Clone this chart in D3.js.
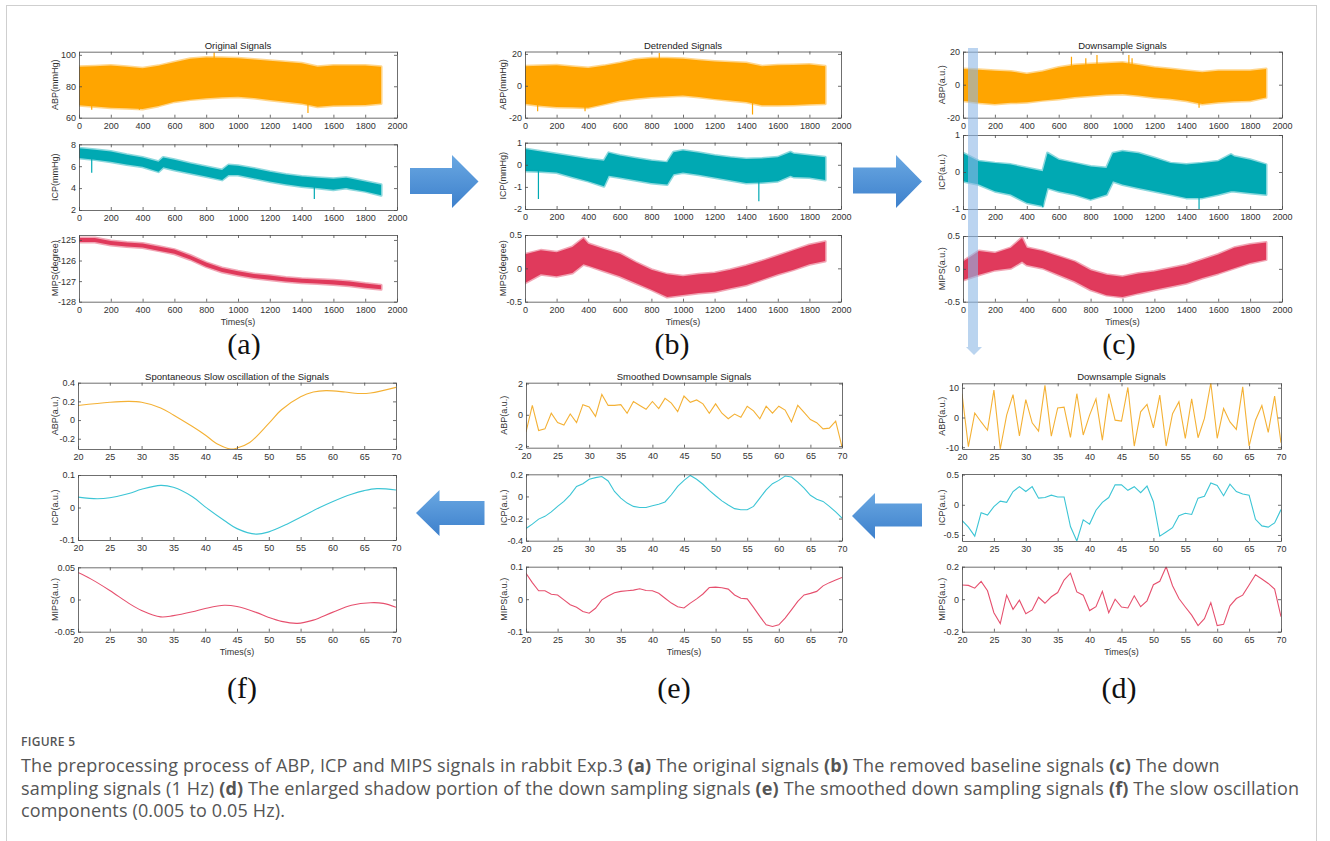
<!DOCTYPE html>
<html>
<head>
<meta charset="utf-8">
<script src="https://cdn.jsdelivr.net/npm/d3@7"></script>
<style>
  body { margin: 0; background: #fff; }
  svg { display: block; }
  .title, .lab, .tick text { font-family: "Liberation Sans", Arial, sans-serif; }
  .cap { font-family: "Open Sans", sans-serif; white-space: pre; }
</style>
</head>
<body>
<div id="chart"></div>
<script>
// ---------- values ----------
// dense signals (a)-(c): upper / lower envelope of the trace
const gridT = [0,100,200,300,400,500,600,700,800,900,1000,1100,1200,1300,1400,1500,1600,1700,1800,1900];
const icpT  = [0,100,200,300,400,500,530,600,700,800,900,940,1000,1100,1200,1300,1400,1500,1600,1680,1700,1800,1900];
const mipsT = [0,100,200,300,370,400,500,600,700,800,900,1000,1100,1200,1300,1400,1500,1600,1700,1800,1900];

const abpAUp = [92.5,92.8,93.2,92.5,91.5,93,95.3,97.5,98.3,98.2,97.9,97,96.2,95.5,94.7,92.5,93.2,93.2,93.2,92.5];
const abpALo = [68,67.2,66.4,66,65.5,67.5,70.2,71.5,72.3,73,73.4,72.5,71.3,70.2,69.1,67,67.7,68,68.1,69.1];
const abpASpikes = [[850,96,101.5],[1440,70,63],[80,70,65],[380,68,65]];
const icpAUp = [7.65,7.5,7.35,7.05,6.8,6.4,6.8,6.6,6.25,5.95,5.65,6.1,6.05,5.8,5.5,5.25,5.05,4.95,4.85,4.95,4.9,4.6,4.3];
const icpALo = [6.75,6.6,6.4,6.15,5.95,5.5,5.9,5.65,5.35,5.05,4.75,5.2,5.2,4.9,4.6,4.35,4.15,4.0,3.85,4.0,3.95,3.7,3.35];
const icpASpikes = [[80,7,5.4],[1480,4.2,3.0]];
const mipsAUp = [-124.9,-124.9,-125.05,-125.12,-125.17,-125.32,-125.47,-125.75,-126.1,-126.36,-126.52,-126.65,-126.73,-126.82,-126.88,-126.92,-126.96,-127.02,-127.12,-127.2];
const mipsALo = [-125.1,-125.1,-125.25,-125.32,-125.37,-125.52,-125.67,-125.95,-126.3,-126.56,-126.72,-126.85,-126.93,-127.02,-127.08,-127.12,-127.16,-127.22,-127.32,-127.4];

const abpBUp = [12.2,12.5,12.9,12,11.2,12.5,14.3,16.5,17.3,17.2,16.9,16,15.3,14.8,14.3,12.2,12.9,13,13.3,12.2];
const abpBLo = [-11.2,-12.5,-13.3,-13.5,-13.7,-11.5,-9.2,-8,-7.1,-6.5,-6.1,-7,-8.2,-9.2,-10.2,-12.2,-12.2,-12,-11.6,-11.2];
const abpBSpikes = [[850,15,20.5],[1440,-10,-18],[80,-10,-16],[380,-12,-16]];
const icpBUp = [0.72,0.6,0.49,0.38,0.26,0.18,0.54,0.42,0.3,0.18,0.11,0.57,0.65,0.55,0.42,0.33,0.26,0.28,0.34,0.57,0.5,0.42,0.34];
const icpBLo = [-0.28,-0.3,-0.35,-0.55,-0.74,-0.97,-0.5,-0.58,-0.7,-0.82,-0.89,-0.43,-0.35,-0.45,-0.58,-0.7,-0.82,-0.8,-0.74,-0.5,-0.55,-0.58,-0.69];
const icpBSpikes = [[85,-0.2,-1.55],[1480,-0.6,-1.65]];
const mipsBUp = [0.21,0.27,0.24,0.32,0.45,0.37,0.29,0.22,0.09,-0.02,-0.09,-0.12,-0.09,-0.07,-0.02,0.04,0.11,0.19,0.27,0.35,0.4];
const mipsBLo = [-0.22,-0.09,-0.12,-0.07,0.06,0.04,-0.04,-0.12,-0.22,-0.32,-0.43,-0.4,-0.37,-0.35,-0.3,-0.25,-0.17,-0.09,-0.02,0.06,0.11];

const abpCUp = [9.5,9,8.5,8,6.5,8,10.5,12,12.5,13,13.5,12,10.5,9.5,8.5,7.5,8.5,8.5,8.5,9.5];
const abpCLo = [-9.7,-11,-11.7,-11,-10.7,-9.5,-8.7,-7.5,-6.7,-6,-5.7,-6.5,-7.7,-8.5,-9.7,-11.7,-10.7,-10,-9.7,-7.7];
const abpCSpikes = [[680,10,17],[770,10,16],[840,10,18],[1040,10,18],[1060,10,16],[1480,-8,-14]];
const icpCUp = [0.51,0.29,0.24,0.2,0.11,0.02,0.51,0.33,0.24,0.15,0.11,0.51,0.56,0.51,0.38,0.24,0.2,0.24,0.29,0.47,0.42,0.33,0.2];
const icpCLo = [-0.25,-0.34,-0.52,-0.61,-0.83,-0.92,-0.43,-0.52,-0.61,-0.74,-0.61,-0.25,-0.34,-0.43,-0.52,-0.61,-0.7,-0.7,-0.61,-0.52,-0.52,-0.57,-0.61];
const icpCSpikes = [[1480,-0.5,-1.0],[500,-0.6,-0.95]];
const mipsCUp = [0.11,0.27,0.24,0.32,0.47,0.32,0.27,0.19,0.11,-0.02,-0.09,-0.12,-0.07,-0.04,0.01,0.06,0.14,0.22,0.32,0.37,0.4];
const mipsCLo = [-0.17,-0.09,-0.02,0.01,0.11,0.06,0.01,-0.09,-0.19,-0.32,-0.4,-0.43,-0.37,-0.32,-0.27,-0.22,-0.14,-0.07,0.01,0.09,0.14];

// 1 Hz samples (d), (e): t = 20..70 s
const secT = [20,21,22,23,24,25,26,27,28,29,30,31,32,33,34,35,36,37,38,39,40,41,42,43,44,45,46,47,48,49,50,51,52,53,54,55,56,57,58,59,60,61,62,63,64,65,66,67,68,69,70];
const abpD = [8,-9.8,1.5,-1.5,-4.3,9.2,-10.6,0.8,7.7,-6.2,6.0,-1.8,-4.6,10.8,-6.3,3.2,3.5,-6.7,8,-5.9,0.8,6.3,-7.6,8,-0.9,-1.2,10.1,-9.6,1.9,4.4,-3.5,7.5,-9.6,1.3,5.3,-7.0,6.3,-6.8,-0.3,11.6,-7.0,3.0,-1.5,-4.0,10.3,-9.6,-0.9,4.0,-5.0,7.2,-8.5];
const icpD = [-0.26,-0.37,-0.52,-0.13,-0.17,-0.03,0.06,0.04,0.22,0.3,0.22,0.3,0.11,0.12,0.16,0.13,0.13,-0.36,-0.6,-0.25,-0.32,-0.09,0.04,0.12,0.33,0.33,0.24,0.3,0.2,0.31,0.05,-0.52,-0.45,-0.38,-0.18,-0.14,-0.16,0.11,0.14,0.36,0.32,0.15,0.34,0.22,0.18,0.16,-0.24,-0.35,-0.37,-0.3,-0.08];
const mipsD = [0.087,0.085,0.068,0.11,0.052,-0.083,-0.15,0.025,-0.062,-0.006,-0.09,-0.066,0.012,-0.025,0.015,0.041,0.118,0.16,0.045,0.025,-0.07,-0.046,0.048,-0.083,0.0,-0.048,-0.054,0.021,-0.046,-0.01,0.089,0.11,0.2,0.083,0.004,-0.048,-0.098,-0.162,-0.12,-0.021,-0.162,-0.155,-0.041,0.004,0.025,0.087,0.15,0.124,0.097,0.062,-0.108];

const abpE = [-1.1,0.6,-1.0,-0.9,0.1,-0.5,-0.65,0.05,-0.5,0.65,0.5,-0.1,1.3,0.6,0.6,0.65,0.1,0.85,0.6,0.35,0.85,0.4,1.05,0.75,0.2,1.2,0.8,0.95,0.7,0.1,0.7,0.1,-0.25,0.05,-0.15,0.55,0.25,-0.25,0.55,0.1,0.55,0.3,-0.45,0.6,0.15,-0.3,-0.5,-0.9,-0.85,-0.4,-2.05];
const icpE = [-0.29,-0.25,-0.205,-0.18,-0.14,-0.09,-0.045,0.015,0.09,0.115,0.155,0.17,0.18,0.14,0.045,-0.015,-0.06,-0.09,-0.1,-0.1,-0.085,-0.07,-0.05,0.015,0.09,0.145,0.19,0.155,0.11,0.055,0.006,-0.04,-0.077,-0.11,-0.12,-0.12,-0.09,-0.015,0.06,0.115,0.145,0.185,0.175,0.13,0.075,0.01,-0.025,-0.045,-0.09,-0.14,-0.195];
const mipsE = [0.08,0.051,0.026,0.026,0.015,0.013,-0.002,-0.017,-0.025,-0.038,-0.043,-0.028,-0.002,0.01,0.02,0.024,0.026,0.028,0.032,0.027,0.026,0.018,0.003,-0.012,-0.023,-0.027,-0.012,0.001,0.016,0.036,0.037,0.035,0.031,0.013,0.003,0.001,-0.025,-0.053,-0.079,-0.084,-0.079,-0.058,-0.033,-0.007,0.013,0.018,0.024,0.041,0.051,0.059,0.067];

// slow oscillation (f): smooth curves, read at selected times
const abpFT = [20,25,28,30,33,35,38,40,42,44,45,47,50,52,55,57,59,62,64,66,70];
const abpF  = [0.156,0.19,0.2,0.19,0.13,0.055,-0.07,-0.16,-0.26,-0.31,-0.3,-0.24,-0.036,0.11,0.25,0.3,0.315,0.3,0.285,0.29,0.35];
const icpFT = [20,23,25,28,30,33,35,38,40,43,45,48,50,53,55,58,60,63,65,67,70];
const icpF  = [0.032,0.027,0.03,0.043,0.056,0.068,0.062,0.033,0.002,-0.04,-0.065,-0.082,-0.075,-0.05,-0.03,0.0,0.018,0.041,0.052,0.058,0.054];
const mipsFT = [20,22,25,28,30,33,35,38,40,43,45,48,50,52,54.5,57,60,63,66,68,70];
const mipsF  = [0.042,0.032,0.014,-0.006,-0.017,-0.027,-0.025,-0.019,-0.014,-0.009,-0.011,-0.02,-0.028,-0.034,-0.037,-0.032,-0.02,-0.009,-0.005,-0.006,-0.012];

const longTicks  = [0,200,400,600,800,1000,1200,1400,1600,1800,2000];
const shortTicks = [20,25,30,35,40,45,50,55,60,65,70];

const captionLines = [
  [["The preprocessing process of ABP, ICP and MIPS signals in rabbit Exp.3 ",0],["(a)",1],[" The original signals ",0],["(b)",1],[" The removed baseline signals ",0],["(c)",1],[" The down",0]],
  [["sampling signals (1 Hz) ",0],["(d)",1],[" The enlarged shadow portion of the down sampling signals ",0],["(e)",1],[" The smoothed down sampling signals ",0],["(f)",1],[" The slow oscillation",0]],
  [["components (0.005 to 0.05 Hz).",0]]
];

// ---------- styling ----------
const dense = { abp: "#FFA500", icp: "#00A9B3", mips: "#E03A5C" };
const thin  = { abp: "#F4B135", icp: "#3CC5D5", mips: "#E6506E" };

const panels = [
  { id: "a", x0: 79, x1: 397, rows: [[51.7,117.7],[144.3,210],[235,301.7]], ylabX: 58,
    title: "Original Signals", letter: "(a)", letterX: 244, letterY: 354, xDom: [0,2000], xTicks: longTicks,
    plots: [
      { label: "ABP(mmHg)", dom: [60,102], ticks: [60,80,100], T: gridT, up: abpAUp, lo: abpALo, spikes: abpASpikes, c: dense.abp },
      { label: "ICP(mmHg)", dom: [2,8], ticks: [2,4,6,8], T: icpT, up: icpAUp, lo: icpALo, spikes: icpASpikes, c: dense.icp },
      { label: "MIPS(degree)", dom: [-128,-124.76], ticks: [-128,-127,-126,-125], T: gridT, up: mipsAUp, lo: mipsALo, spikes: [], c: dense.mips }
    ] },
  { id: "b", x0: 525, x1: 841, rows: [[51.5,117.7],[142.7,209],[235,301.7]], ylabX: 506,
    title: "Detrended Signals", letter: "(b)", letterX: 672, letterY: 354, xDom: [0,2000], xTicks: longTicks,
    plots: [
      { label: "ABP(mmHg)", dom: [-20,21.5], ticks: [-20,0,20], T: gridT, up: abpBUp, lo: abpBLo, spikes: abpBSpikes, c: dense.abp },
      { label: "ICP(mmHg)", dom: [-2,1], ticks: [-2,-1,0,1], T: icpT, up: icpBUp, lo: icpBLo, spikes: icpBSpikes, c: dense.icp },
      { label: "MIPS(degree)", dom: [-0.5,0.5], ticks: [-0.5,0,0.5], T: mipsT, up: mipsBUp, lo: mipsBLo, spikes: [], c: dense.mips }
    ] },
  { id: "c", x0: 963, x1: 1282, rows: [[51.7,117.7],[135,209],[236,301.7]], ylabX: 945,
    title: "Downsample Signals", letter: "(c)", letterX: 1119, letterY: 354, xDom: [0,2000], xTicks: longTicks,
    plots: [
      { label: "ABP(a.u.)", dom: [-20,20], ticks: [-20,0,20], T: gridT, up: abpCUp, lo: abpCLo, spikes: abpCSpikes, c: dense.abp },
      { label: "ICP(a.u.)", dom: [-1,1], ticks: [-1,0,1], T: icpT, up: icpCUp, lo: icpCLo, spikes: icpCSpikes, c: dense.icp },
      { label: "MIPS(a.u.)", dom: [-0.5,0.5], ticks: [-0.5,0,0.5], T: mipsT, up: mipsCUp, lo: mipsCLo, spikes: [], c: dense.mips }
    ] },
  { id: "f", x0: 78, x1: 396, rows: [[382.7,449],[475,540],[567.3,631.7]], ylabX: 58,
    title: "Spontaneous Slow oscillation of the Signals", letter: "(f)", letterX: 242, letterY: 698, xDom: [20,70], xTicks: shortTicks,
    plots: [
      { label: "ABP(a.u.)", dom: [-0.31,0.4], ticks: [-0.2,0,0.2,0.4], T: abpFT, v: abpF, smooth: true, c: thin.abp },
      { label: "ICP(a.u.)", dom: [-0.1,0.1], ticks: [-0.1,0,0.1], T: icpFT, v: icpF, smooth: true, c: thin.icp },
      { label: "MIPS(a.u.)", dom: [-0.05,0.05], ticks: [-0.05,0,0.05], T: mipsFT, v: mipsF, smooth: true, c: thin.mips }
    ] },
  { id: "e", x0: 526, x1: 842, rows: [[382.7,447.7],[474.3,540.7],[566.7,631.7]], ylabX: 507,
    title: "Smoothed Downsample Signals", letter: "(e)", letterX: 674, letterY: 698, xDom: [20,70], xTicks: shortTicks,
    plots: [
      { label: "ABP(a.u.)", dom: [-2.1,2.05], ticks: [-2,0,2], T: secT, v: abpE, c: thin.abp },
      { label: "ICP(a.u.)", dom: [-0.4,0.2], ticks: [-0.4,-0.2,0,0.2], T: secT, v: icpE, c: thin.icp },
      { label: "MIPS(a.u.)", dom: [-0.1,0.1], ticks: [-0.1,0,0.1], T: secT, v: mipsE, c: thin.mips }
    ] },
  { id: "d", x0: 962, x1: 1281, rows: [[383.3,449],[474,541],[566.7,631.7]], ylabX: 945,
    title: "Downsample Signals", letter: "(d)", letterX: 1119, letterY: 698, xDom: [20,70], xTicks: shortTicks,
    plots: [
      { label: "ABP(a.u.)", dom: [-10.6,11.5], ticks: [-10,0,10], T: secT, v: abpD, c: thin.abp },
      { label: "ICP(a.u.)", dom: [-0.6,0.51], ticks: [-0.5,0,0.5], T: secT, v: icpD, c: thin.icp },
      { label: "MIPS(a.u.)", dom: [-0.2,0.2], ticks: [-0.2,0,0.2], T: secT, v: mipsD, c: thin.mips }
    ] }
];

// block arrows between panels (layout only)
const arrows = [
  [[410,168],[452,168],[452,155],[478.5,181.5],[452,208],[452,194],[410,194]],
  [[853,167.5],[896,167.5],[896,155],[922,181.5],[896,208],[896,193.5],[853,193.5]],
  [[484.5,501],[439.5,501],[439.5,490],[416,513],[439.5,536],[439.5,525],[484.5,525]],
  [[922,503.5],[875,503.5],[875,493],[852,516],[875,539],[875,526.5],[922,526.5]]
];

const width = 1330, height = 841;
const svg = d3.select("#chart").append("svg")
  .attr("width", width).attr("height", height);

const defs = svg.append("defs");
const grad = defs.append("linearGradient").attr("id", "arrowGrad")
  .attr("x1", 0).attr("y1", 0).attr("x2", 0).attr("y2", 1);
grad.append("stop").attr("offset", "0%").attr("stop-color", "#6aa8e2");
grad.append("stop").attr("offset", "100%").attr("stop-color", "#3d80cc");

// outer frame
svg.append("rect").attr("x", 6.5).attr("y", 5.5).attr("width", 1310).attr("height", 900)
  .attr("fill", "none").attr("stroke", "#cfcfcf");

const fmt = d => String(d);

function styleAxis(g) {
  g.selectAll("path, line").attr("stroke", "#4a4a4a").attr("stroke-width", 0.8);
  g.selectAll("text").attr("fill", "#333").attr("font-size", 9);
  g.attr("font-family", "Liberation Sans, Arial, sans-serif");
}

function drawPanel(p) {
  const g = svg.append("g");
  const x = d3.scaleLinear().domain(p.xDom).range([p.x0, p.x1]);

  g.append("text").attr("class", "title")
    .attr("x", (p.x0 + p.x1) / 2).attr("y", p.rows[0][0] - 3)
    .attr("text-anchor", "middle").attr("font-size", 9.5).attr("fill", "#222")
    .text(p.title);

  p.plots.forEach((s, k) => {
    const [top, bot] = p.rows[k];
    const y = d3.scaleLinear().domain(s.dom).range([bot, top]);
    const cid = `clip-${p.id}${k}`;
    defs.append("clipPath").attr("id", cid).append("rect")
      .attr("x", p.x0).attr("y", top).attr("width", p.x1 - p.x0).attr("height", bot - top);
    const pg = g.append("g").attr("clip-path", `url(#${cid})`);

    if (s.up) {
      const area = d3.area()
        .x((d, i) => x(s.T[i]))
        .y0((d, i) => y(s.lo[i]))
        .y1((d, i) => y(s.up[i]));
      // fuzzy rim imitates the noisy edge of the dense trace
      pg.append("path").datum(s.T).attr("d", area)
        .attr("fill", s.c).attr("stroke", s.c)
        .attr("stroke-width", 3).attr("stroke-opacity", 0.45)
        .attr("stroke-linejoin", "round");
      pg.selectAll("line.spike").data(s.spikes).join("line")
        .attr("x1", d => x(d[0])).attr("x2", d => x(d[0]))
        .attr("y1", d => y(d[1])).attr("y2", d => y(d[2]))
        .attr("stroke", s.c).attr("stroke-width", 1.2);
    } else {
      const line = d3.line()
        .x((d, i) => x(s.T[i]))
        .y(d => y(d))
        .curve(s.smooth ? d3.curveCatmullRom : d3.curveLinear);
      pg.append("path").datum(s.v).attr("d", line)
        .attr("fill", "none").attr("stroke", s.c).attr("stroke-width", 1.1);
    }

    // MATLAB-style box with inward ticks on all sides
    g.append("g").attr("transform", `translate(0,${bot})`)
      .call(d3.axisBottom(x).tickValues(p.xTicks).tickFormat(fmt).tickSize(-3).tickSizeOuter(0).tickPadding(5))
      .call(styleAxis);
    g.append("g").attr("transform", `translate(0,${top})`)
      .call(d3.axisTop(x).tickValues(p.xTicks).tickFormat("").tickSize(-3).tickSizeOuter(0))
      .call(styleAxis);
    g.append("g").attr("transform", `translate(${p.x0},0)`)
      .call(d3.axisLeft(y).tickValues(s.ticks).tickFormat(fmt).tickSize(-3).tickSizeOuter(0).tickPadding(3))
      .call(styleAxis);
    g.append("g").attr("transform", `translate(${p.x1},0)`)
      .call(d3.axisRight(y).tickValues(s.ticks).tickFormat("").tickSize(-3).tickSizeOuter(0))
      .call(styleAxis);

    g.append("text").attr("class", "lab")
      .attr("transform", `translate(${p.ylabX},${(top + bot) / 2}) rotate(-90)`)
      .attr("text-anchor", "middle").attr("font-size", 9).attr("fill", "#333")
      .text(s.label);
  });

  const lastBot = p.rows[2][1];
  g.append("text").attr("class", "lab")
    .attr("x", (p.x0 + p.x1) / 2).attr("y", lastBot + 23)
    .attr("text-anchor", "middle").attr("font-size", 9).attr("fill", "#333")
    .text("Times(s)");

  g.append("text")
    .attr("x", p.letterX).attr("y", p.letterY)
    .attr("text-anchor", "middle")
    .attr("font-family", "Liberation Serif, Times New Roman, serif")
    .attr("font-size", 30).attr("fill", "#111")
    .text(p.letter);
}

panels.forEach(drawPanel);

// shaded window in (c) marking the enlarged portion (d)
const shade = svg.append("g").attr("opacity", 0.6);
shade.append("rect").attr("x", 968).attr("y", 48).attr("width", 10).attr("height", 299)
  .attr("fill", "#8db8e6");
shade.append("path").attr("d", "M966,347L982,347L974,355Z").attr("fill", "#8db8e6");

svg.append("g").selectAll("path").data(arrows).join("path")
  .attr("d", d => "M" + d.join("L") + "Z")
  .attr("fill", "url(#arrowGrad)");

// caption
svg.append("text").attr("class", "cap")
  .attr("x", 21).attr("y", 746)
  .attr("font-size", 12).attr("font-weight", 600).attr("fill", "#555")
  .attr("letter-spacing", 0.3)
  .text("FIGURE 5");

captionLines.forEach((segs, i) => {
  const t = svg.append("text").attr("class", "cap")
    .attr("x", 21).attr("y", 772 + i * 22.5)
    .attr("font-size", 18).attr("letter-spacing", 0.15).attr("fill", "#555");
  segs.forEach(([txt, b]) => {
    t.append("tspan").attr("font-weight", b ? 700 : 400).text(txt);
  });
});
</script>
</body>
</html>
